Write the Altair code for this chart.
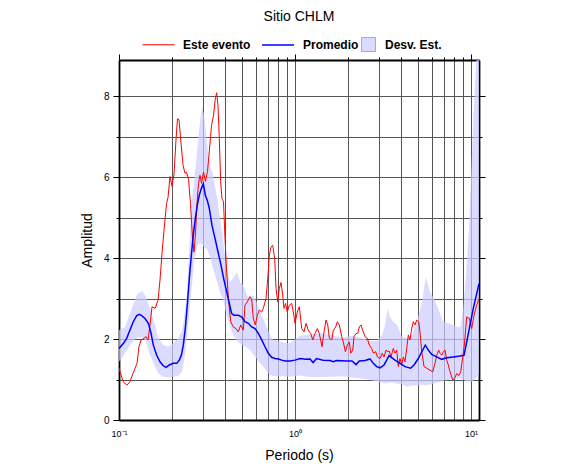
import altair as alt
import pandas as pd

# ---- Data ----
periodo_evento = [0.1000, 0.1054, 0.1110, 0.1155, 0.1201, 0.1266, 0.1299, 0.1334, 0.1369, 0.1424,
                  0.1462, 0.1500, 0.1540, 0.1602, 0.1666, 0.1710, 0.1755, 0.1802, 0.1862, 0.1899,
                  0.1949, 0.2001, 0.2054, 0.2108, 0.2150, 0.2193, 0.2251, 0.2310, 0.2371, 0.2418,
                  0.2483, 0.2548, 0.2616, 0.2668, 0.2720, 0.2774, 0.2829, 0.2885, 0.2942, 0.3020,
                  0.3100, 0.3183, 0.3268, 0.3354, 0.3442, 0.3525, 0.3590, 0.3651, 0.3714, 0.3782,
                  0.3847, 0.3924, 0.4001, 0.4091, 0.4200, 0.4312, 0.4461, 0.4621, 0.4762, 0.4915,
                  0.5084, 0.5199, 0.5358, 0.5550, 0.5675, 0.5796, 0.5949, 0.6107, 0.6269, 0.6469,
                  0.6605, 0.6843, 0.7024, 0.7145, 0.7305, 0.7470, 0.7668, 0.7799, 0.7975, 0.8143,
                  0.8326, 0.8513, 0.8659, 0.8831, 0.9041, 0.9281, 0.9577, 0.9779, 1.000, 1.030,
                  1.058, 1.092, 1.125, 1.155, 1.190, 1.228, 1.261, 1.299, 1.339, 1.374,
                  1.424, 1.462, 1.500, 1.534, 1.567, 1.617, 1.651, 1.703, 1.740, 1.785,
                  1.843, 1.881, 1.932, 1.983, 2.035, 2.073, 2.128, 2.164, 2.222, 2.271,
                  2.319, 2.371, 2.424, 2.499, 2.575, 2.643, 2.727, 2.785, 2.874, 2.937,
                  3.040, 3.133, 3.204, 3.289, 3.345, 3.433, 3.511, 3.618, 3.699, 3.782,
                  3.862, 3.949, 4.038, 4.124, 4.217, 4.312, 4.403, 4.502, 4.603, 4.700,
                  4.806, 4.915, 5.044, 5.131, 5.247, 5.407, 5.601, 5.849, 6.059, 6.244,
                  6.385, 6.553, 6.666, 6.815, 6.961, 7.117, 7.277, 7.430, 7.598, 7.871,
                  8.111, 8.293, 8.546, 8.739, 8.971, 9.160, 9.453, 9.779, 10.09, 10.40,
                  10.78, 11.10]
amp_evento = [1.28, 0.95, 0.86, 0.95, 1.15, 1.40, 1.81, 1.98, 2.00, 2.06,
              1.98, 2.35, 2.80, 2.76, 2.96, 3.46, 4.12, 4.69, 5.35, 5.50,
              6.02, 5.78, 6.08, 6.93, 7.45, 7.42, 6.85, 6.30, 6.10, 6.13,
              5.95, 5.35, 4.50, 4.15, 4.60, 5.35, 5.84, 6.05, 5.85, 6.13,
              5.90, 6.15, 6.70, 7.28, 7.53, 7.94, 8.09, 7.78, 6.96, 5.89,
              5.47, 5.40, 4.49, 3.66, 2.92, 2.43, 2.30, 2.26, 2.18, 2.35,
              2.22, 2.84, 2.92, 3.05, 2.98, 2.51, 2.35, 2.59, 2.72, 2.67,
              2.76, 3.00, 3.58, 4.07, 4.28, 4.32, 3.99, 3.25, 2.92, 3.25,
              3.40, 3.09, 2.76, 2.88, 2.67, 2.84, 2.88, 2.67, 2.39, 2.67,
              2.80, 2.26, 2.18, 2.39, 2.22, 2.14, 1.98, 2.14, 2.26, 2.14,
              1.81, 2.18, 2.47, 2.35, 2.02, 1.98, 2.22, 2.30, 2.43, 2.35,
              2.06, 1.93, 1.69, 1.85, 1.93, 1.65, 1.73, 2.06, 2.14, 2.14,
              2.30, 2.35, 2.22, 2.06, 2.02, 1.85, 1.77, 1.65, 1.69, 1.56,
              1.52, 1.65, 1.56, 1.73, 1.69, 1.70, 1.56, 1.77, 1.65, 1.73,
              1.32, 1.52, 1.36, 1.56, 1.44, 1.77, 2.10, 1.98, 2.26, 2.43,
              2.35, 2.47, 2.43, 2.18, 1.69, 1.32, 1.28, 1.23, 1.19, 1.40,
              1.60, 1.73, 1.65, 1.60, 1.69, 1.73, 1.48, 1.36, 1.19, 0.99,
              1.05, 1.15, 1.10, 1.19, 1.56, 1.85, 2.55, 2.51, 2.26, 2.59,
              2.84, 3.00]

periodo_prom = [0.1000, 0.1058, 0.1106, 0.1144, 0.1206, 0.1261, 0.1304, 0.1346, 0.1405, 0.1468,
                0.1514, 0.1567, 0.1637, 0.1710, 0.1785, 0.1850, 0.1932, 0.2035, 0.2128, 0.2202,
                0.2260, 0.2319, 0.2380, 0.2444, 0.2509, 0.2575, 0.2643, 0.2713, 0.2785, 0.2859,
                0.2935, 0.3013, 0.3092, 0.3174, 0.3259, 0.3376, 0.3511, 0.3651, 0.3797, 0.3949,
                0.4091, 0.4233, 0.4367, 0.4502, 0.4762, 0.4967, 0.5199, 0.5430, 0.5675, 0.5926,
                0.6190, 0.6469, 0.6754, 0.7051, 0.7372, 0.7698, 0.8038, 0.8402, 0.8773, 0.9366,
                1.000, 1.068, 1.155, 1.217, 1.268, 1.325, 1.443, 1.581, 1.651, 1.720,
                1.967, 2.108, 2.222, 2.319, 2.499, 2.668, 2.785, 2.911, 3.040, 3.204,
                3.319, 3.420, 3.543, 3.699, 3.949, 4.217, 4.537, 4.744, 5.017, 5.316,
                5.499, 5.720, 5.980, 6.385, 6.815, 7.277, 7.933, 8.659, 9.124, 9.453,
                9.869, 10.30, 10.78, 11.10]
amp_prom = [1.77, 1.89, 2.02, 2.18, 2.43, 2.58, 2.61, 2.58, 2.51, 2.39,
            2.18, 1.85, 1.60, 1.44, 1.34, 1.30, 1.36, 1.40, 1.40, 1.48,
            1.60, 1.85, 2.26, 2.84, 3.50, 4.07, 4.57, 4.98, 5.31, 5.56,
            5.72, 5.84, 5.56, 5.43, 5.23, 4.81, 4.49, 4.16, 3.83, 3.46,
            3.17, 2.88, 2.63, 2.59, 2.59, 2.55, 2.43, 2.39, 2.30, 2.26,
            2.14, 1.98, 1.81, 1.65, 1.55, 1.52, 1.51, 1.48, 1.46, 1.46,
            1.48, 1.52, 1.50, 1.51, 1.42, 1.52, 1.48, 1.47, 1.44, 1.47,
            1.46, 1.46, 1.37, 1.46, 1.47, 1.51, 1.40, 1.32, 1.29, 1.36,
            1.48, 1.59, 1.54, 1.48, 1.40, 1.32, 1.28, 1.36, 1.52, 1.73,
            1.85, 1.73, 1.62, 1.56, 1.50, 1.54, 1.56, 1.58, 1.60, 1.93,
            2.35, 2.76, 3.13, 3.37]

periodo_desv = [0.1000, 0.1082, 0.1170, 0.1266, 0.1351, 0.1424, 0.1500, 0.1581, 0.1666, 0.1778,
                0.1899, 0.2027, 0.2164, 0.2280, 0.2340, 0.2434, 0.2515, 0.2599, 0.2668, 0.2774,
                0.2866, 0.2962, 0.3040, 0.3162, 0.3289, 0.3420, 0.3604, 0.3748, 0.3898, 0.4107,
                0.4273, 0.4443, 0.4682, 0.4870, 0.5064, 0.5337, 0.5550, 0.5773, 0.6083, 0.6326,
                0.6579, 0.6933, 0.7211, 0.7499, 0.8218, 0.9366, 1.068, 1.217, 1.387, 1.581,
                1.874, 2.108, 2.340, 2.668, 2.923, 3.121, 3.246, 3.354, 3.465, 3.604,
                3.797, 4.054, 4.329, 4.621, 4.934, 5.268, 5.529, 5.849, 6.163, 6.494,
                6.933, 7.401, 8.111, 8.659, 9.006, 9.366, 9.709, 10.00, 10.26, 10.54,
                10.82, 11.10]
desv_inf = [1.44, 1.65, 1.88, 2.04, 2.04, 1.95, 1.62, 1.38, 1.16, 1.07,
            1.05, 1.07, 1.08, 1.20, 1.45, 2.05, 2.70, 3.35, 3.90, 4.28,
            4.38, 4.35, 4.28, 4.22, 4.03, 3.75, 3.42, 3.15, 2.98, 2.55,
            2.32, 2.12, 1.95, 1.89, 1.85, 1.78, 1.73, 1.63, 1.50, 1.40,
            1.33, 1.20, 1.12, 1.09, 1.08, 1.07, 1.10, 1.06, 1.06, 1.07,
            1.08, 1.05, 1.03, 0.99, 0.96, 0.92, 0.90, 0.92, 0.93, 0.93,
            0.90, 0.88, 0.82, 0.85, 0.86, 0.87, 0.86, 0.88, 0.90, 0.93,
            0.97, 0.99, 1.02, 1.03, 1.00, 0.96, 0.95, 0.95, 0.97, 1.00,
            1.05, 1.15]
desv_sup = [2.22, 2.30, 2.70, 3.10, 3.19, 3.05, 2.76, 2.43, 2.05, 1.86,
            1.81, 1.89, 2.01, 2.20, 2.51, 3.15, 4.35, 5.45, 5.89, 6.60,
            7.25, 7.75, 7.55, 6.85, 6.30, 6.05, 5.50, 4.98, 4.45, 3.70,
            3.41, 3.50, 3.66, 3.41, 3.33, 3.09, 3.00, 3.09, 2.90, 2.67,
            2.52, 2.28, 2.10, 1.98, 1.93, 1.90, 2.08, 2.12, 2.15, 2.10,
            2.04, 2.08, 2.04, 1.95, 1.95, 2.10, 2.33, 2.75, 2.55, 2.43,
            2.35, 2.06, 2.02, 2.10, 2.43, 2.92, 3.54, 3.17, 3.00, 2.76,
            2.43, 2.39, 2.33, 2.28, 2.70, 3.60, 4.70, 6.00, 7.20, 8.30,
            9.30, 11.0]

series_names = ["Este evento", "Promedio"]
band_name = "Desv. Est."
title_text = "Sitio CHLM"
x_title = "Periodo (s)"
y_title = "Amplitud"
x_tick_values = [0.1, 0.2, 0.3, 0.4, 0.5, 0.6, 0.7, 0.8, 0.9,
                 1, 2, 3, 4, 5, 6, 7, 8, 9, 10]
y_tick_values = [0, 1, 2, 3, 4, 5, 6, 7, 8]

assert len(periodo_evento) == len(amp_evento)
assert len(periodo_prom) == len(amp_prom)
assert len(periodo_desv) == len(desv_inf) == len(desv_sup)

df_lines = pd.concat([
    pd.DataFrame({"Periodo": periodo_evento, "Amplitud": amp_evento, "Serie": series_names[0]}),
    pd.DataFrame({"Periodo": periodo_prom, "Amplitud": amp_prom, "Serie": series_names[1]}),
], ignore_index=True)
df_band = pd.DataFrame({"Periodo": periodo_desv, "inf": desv_inf, "sup": desv_sup, "Serie": band_name})

FONT = "Liberation Sans"
x_scale = alt.Scale(type="log", domain=[0.1, 11.1], nice=False)
y_scale = alt.Scale(domain=[0, 8.9], nice=False, zero=False)

x_major = "(datum.value < 0.15) || (abs(datum.value - 1) < 0.01) || (abs(datum.value - 10) < 0.01)"
x_label_expr = ("datum.value < 0.15 ? '10⁻¹' : (abs(datum.value - 1) < 0.01 ? '10⁰' : "
                "(abs(datum.value - 10) < 0.01 ? '10¹' : ''))")
y_major = "datum.value % 2 == 0"
DOMAIN = dict(domain=True, domainColor="black", domainWidth=1.8)

x_axis_bottom = alt.Axis(values=x_tick_values, labelExpr=x_label_expr, title=x_title,
                         grid=True, gridColor="#555555", gridWidth=1, gridOpacity=1,
                         ticks=False, labelPadding=9, labelFontSize=9,
                         labelFont=FONT, labelColor="black", titleFont=FONT, titleFontSize=14,
                         titleFontWeight="normal", titleColor="black", titlePadding=10,
                         labelFlush=False, **DOMAIN)
y_axis_left = alt.Axis(values=y_tick_values, labelExpr="datum.value % 2 == 0 ? datum.label : ''",
                       title=y_title, grid=True, gridColor="#555555", gridWidth=1, gridOpacity=1,
                       tickSize={"condition": {"test": y_major, "value": 6}, "value": 3},
                       tickColor="black", labelPadding=4, labelFontSize=10,
                       labelFont=FONT, labelColor="black", titleFont=FONT, titleFontSize=14,
                       titleFontWeight="normal", titleColor="black", titlePadding=9, **DOMAIN)
x_axis_top = alt.Axis(orient="top", values=x_tick_values, labels=False, title=None, grid=False,
                      tickColor="black",
                      tickSize={"condition": {"test": x_major, "value": 6}, "value": 3}, **DOMAIN)
y_axis_right = alt.Axis(orient="right", values=y_tick_values, labels=False, title=None, grid=False,
                        tickColor="black",
                        tickSize={"condition": {"test": y_major, "value": 6}, "value": 3}, **DOMAIN)

band = alt.Chart(df_band).mark_area(clip=True, opacity=0.7, interpolate="linear").encode(
    x=alt.X("Periodo:Q", scale=x_scale, axis=x_axis_bottom),
    y=alt.Y("sup:Q", scale=y_scale, axis=y_axis_left),
    y2="inf:Q",
    fill=alt.Fill("Serie:N", scale=alt.Scale(domain=[band_name], range=["#ccccff"]),
                  legend=alt.Legend(orient="none", legendX=242, legendY=-23, title=None,
                                    symbolType="square", symbolSize=196,
                                    symbolStrokeColor="#8a8a8a", symbolStrokeWidth=1,
                                    labelOffset=9, labelFont=FONT, labelFontSize=12,
                                    labelFontWeight="bold", labelColor="black", padding=0)),
)

lines = alt.Chart(df_lines).mark_line(clip=True).encode(
    x=alt.X("Periodo:Q", scale=x_scale, axis=x_axis_top),
    y=alt.Y("Amplitud:Q", scale=y_scale, axis=y_axis_right),
    color=alt.Color("Serie:N", scale=alt.Scale(domain=series_names, range=["#ff0000", "#0000ff"]),
                    legend=alt.Legend(orient="none", legendX=23, legendY=-32, title=None,
                                      direction="horizontal", symbolType="stroke",
                                      symbolSize=1024, symbolStrokeWidth=1.5,
                                      labelOffset=8, columnPadding=8, labelFont=FONT,
                                      labelFontSize=12, labelFontWeight="bold",
                                      labelColor="black", padding=0)),
    strokeWidth=alt.StrokeWidth("Serie:N", scale=alt.Scale(domain=series_names, range=[1, 1.5]),
                                legend=None),
)

chart = alt.layer(band, lines).resolve_axis(x="independent", y="independent").properties(
    width=360, height=360,
    title=alt.TitleParams(title_text, font=FONT, fontSize=14, fontWeight="normal",
                          anchor="middle", color="black", offset=4),
    padding={"left": 111, "top": 52, "right": 95, "bottom": 45},
    autosize=alt.AutoSizeParams(type="none"),
).configure_view(stroke="black", strokeWidth=1.8).configure(background="white")

chart.save("out.html", embed_options={"renderer": "svg", "actions": False})
